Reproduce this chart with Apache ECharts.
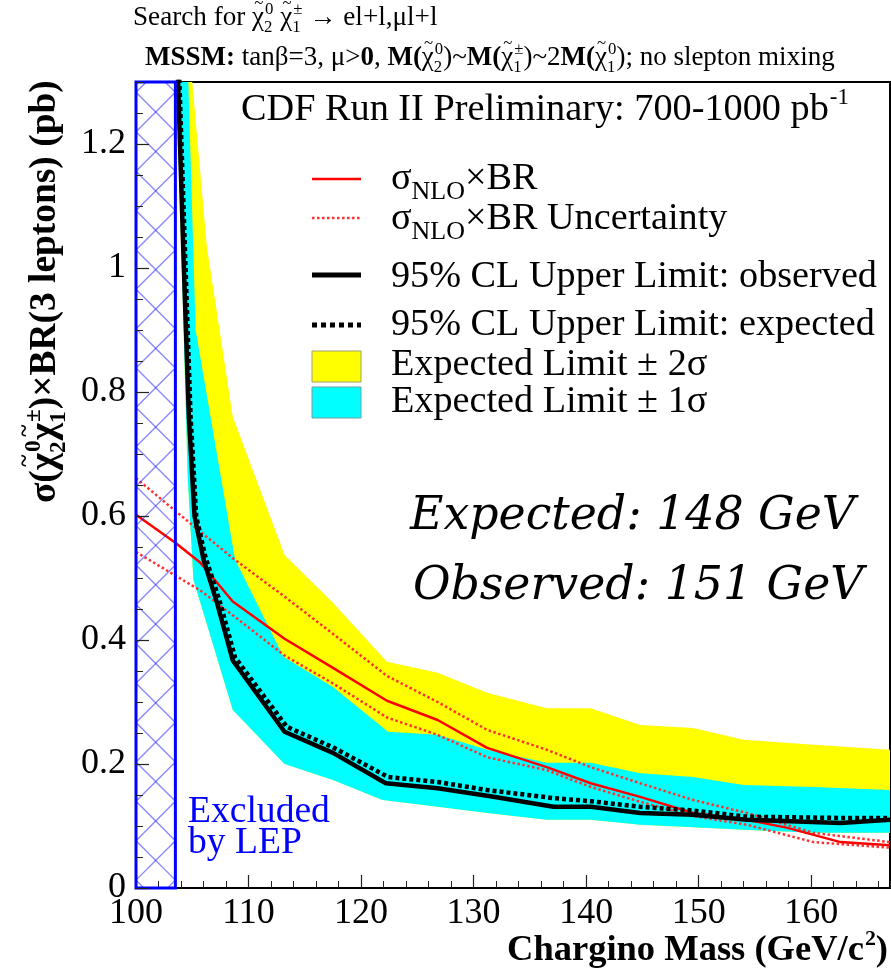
<!DOCTYPE html>
<html>
<head>
<meta charset="utf-8">
<script src="https://cdn.jsdelivr.net/npm/echarts@6/dist/echarts.min.js"></script>
<style>
  html, body { margin: 0; padding: 0; background: #fff; }
  #chart { width: 891px; height: 974px; }
</style>
</head>
<body>
<div id="chart"></div>
<script>
// ---- Chargino mass (GeV/c^2) and cross-section limits (pb) ----
const lepLimit = 103.5;          // region excluded by LEP: 100 .. lepLimit
const xRange = [100, 167];
const yRange = [0, 1.3];
const xTicks = 10, xMinor = 2;
const yTicks = 0.2, yMinor = 0.05;

// theory: sigma_NLO x BR and its uncertainty
const nloMass = [100, 103.5, 105.7, 108.6, 113.2, 117.5, 122.3, 126.8, 131.2, 136.5, 140.4, 144.8, 149.5, 154.3, 157.9, 162.6, 167];
const nloXsec = [0.602, 0.557, 0.525, 0.462, 0.402, 0.355, 0.302, 0.271, 0.226, 0.195, 0.169, 0.147, 0.121, 0.11, 0.097, 0.074, 0.069];
const nloErrMass = [100, 105.7, 108.6, 113.2, 117.5, 122.3, 126.8, 131.2, 136.5, 140.4, 144.8, 149.5, 154.3, 160.2, 167];
const nloUpper = [0.661, 0.575, 0.532, 0.47, 0.41, 0.342, 0.3, 0.255, 0.223, 0.195, 0.169, 0.142, 0.121, 0.089, 0.074];
const nloLower = [0.542, 0.48, 0.44, 0.375, 0.33, 0.275, 0.247, 0.211, 0.19, 0.163, 0.139, 0.116, 0.102, 0.074, 0.065];

// 95% CL upper limits
const obsMass = [103.5, 104.2, 104.7, 105.2, 106.0, 107.2, 108.6, 113.2, 117.5, 122.2, 126.8, 131.5, 137.1, 140.4, 144.8, 149.5, 154.3, 162.6, 167];
const obsLimit = [1.44, 1.03, 0.76, 0.60, 0.53, 0.46, 0.367, 0.252, 0.218, 0.169, 0.161, 0.148, 0.131, 0.131, 0.121, 0.118, 0.11, 0.105, 0.11];
const expMass = [103.6, 104.35, 104.85, 105.35, 106.15, 107.4, 108.8, 113.4, 117.5, 122.4, 126.8, 131.2, 137.1, 140.4, 144.8, 149.5, 154.3, 162.6, 167];
const expLimit = [1.44, 1.03, 0.76, 0.60, 0.535, 0.465, 0.372, 0.26, 0.227, 0.179, 0.171, 0.158, 0.145, 0.14, 0.131, 0.125, 0.115, 0.113, 0.113];

// expected-limit bands (the -2 sigma edge coincides with the -1 sigma edge)
const band2UpMass = [103.5, 105.0, 106.3, 108.6, 113.2, 117.5, 122.3, 126.8, 131.2, 136.5, 140.4, 144.8, 149.5, 154.0, 160.2, 167];
const band2Up = [2.2, 1.3, 1.034, 0.76, 0.537, 0.46, 0.365, 0.347, 0.315, 0.29, 0.29, 0.263, 0.258, 0.239, 0.231, 0.223];
const band1UpMass = [103.5, 104.65, 105.3, 108.8, 113.1, 117.5, 122.4, 126.8, 131.2, 136.5, 140.4, 144.8, 149.5, 154.0, 160.2, 167];
const band1Up = [1.75, 1.3, 0.9, 0.53, 0.373, 0.324, 0.252, 0.247, 0.223, 0.202, 0.202, 0.185, 0.179, 0.166, 0.163, 0.158];
const band1LowMass = [103.3, 104.6, 105.1, 108.6, 113.2, 117.5, 121.9, 126.8, 131.2, 136.5, 140.4, 144.8, 149.5, 154.0, 160.2, 167];
const band1Low = [1.5, 0.66, 0.497, 0.287, 0.2, 0.174, 0.142, 0.131, 0.121, 0.11, 0.11, 0.102, 0.098, 0.094, 0.089, 0.089];

const expectedMassLimit = 148;
const observedMassLimit = 151;

// ---- helpers ----
const zip = (xs, ys) => xs.map((x, i) => [x, ys[i]]);
const SERIF = '"Liberation Serif"';

const mctx = document.createElement('canvas').getContext('2d');
function fnt(r, size) {
  return (r.i ? 'italic ' : '') + (r.b ? 'bold ' : '') + size.toFixed(2) + 'px ' + (r.f || SERIF);
}
function measure(text, font) { mctx.font = font; return mctx.measureText(text).width; }

// lay out text runs (plain text, tilde accents, super/subscripts) along a baseline at y = 0
function buildRuns(runs, size, color, family) {
  let x = 0;
  const els = [];
  const put = (text, font, px, base, sz, align) => els.push({
    type: 'text', x: px, y: base - 0.34 * sz, silent: true,
    style: { text: text, font: font, fill: color, align: align || 'left', verticalAlign: 'middle' }
  });
  runs.forEach(r0 => {
    const r = Object.assign({ f: family }, r0);
    if (r.t !== undefined) {
      const f = fnt(r, size);
      const w = measure(r.t, f);
      put(r.t, f, x, 0, size);
      if (r.tilde) {
        const ts = size * 0.62;
        put('~', fnt(r, ts), x + w * 0.55, -size * 0.66, ts, 'center');
      }
      x += w;
    } else {
      const ss = size * (r.s || 0.62);
      const f = fnt(r, ss);
      let w = 0;
      if (r.sup !== undefined) { put(r.sup, f, x + 1, -size * 0.44, ss); w = Math.max(w, measure(r.sup, f) + 1); }
      if (r.sub !== undefined) { put(r.sub, f, x, size * 0.24, ss); w = Math.max(w, measure(r.sub, f)); }
      x += w;
    }
  });
  return { els: els, width: x, size: size };
}
function fitSize(runs, size, target, family) {
  return size * target / buildRuns(runs, size, '#000', family).width;
}
function mathText(runs, o) {
  const res = buildRuns(runs, o.size, o.color || '#000', o.family);
  let ox = 0;
  if (o.align === 'right') ox = -res.width;
  res.els.forEach(e => { e.x += ox; });
  return { type: 'group', x: o.x, y: o.y, rotation: o.rotation || 0, silent: true, children: res.els };
}

// polygon between an upper and a lower edge, in data coordinates
function bandSeries(name, upX, upY, loX, loY, color, z) {
  return {
    type: 'custom', name: name, coordinateSystem: 'cartesian2d', clip: true, z: z,
    data: [[xRange[0], yRange[0]]], encode: { x: 0, y: 1 }, silent: true,
    renderItem: (params, api) => {
      const pts = [];
      upX.forEach((m, i) => pts.push(api.coord([m, upY[i]])));
      for (let i = loX.length - 1; i >= 0; i--) pts.push(api.coord([loX[i], loY[i]]));
      return { type: 'polygon', shape: { points: pts }, style: { fill: color, stroke: null } };
    }
  };
}

// cross-hatched box for the LEP-excluded mass range
const lepSeries = {
  type: 'custom', name: 'Excluded by LEP', coordinateSystem: 'cartesian2d', z: 8, silent: true,
  data: [[xRange[0], yRange[0]]], encode: { x: 0, y: 1 },
  renderItem: (params, api) => {
    const tl = api.coord([xRange[0], yRange[1]]);
    const br = api.coord([lepLimit, yRange[0]]);
    const x0 = tl[0], y0 = tl[1], x1 = br[0], y1 = br[1], w = x1 - x0;
    const hatch = [];
    for (let yc = y1 - 0.7 * w + w; yc > y0 - w; yc -= w) {
      hatch.push({ type: 'line', shape: { x1: x0, y1: yc - w / 2, x2: x1, y2: yc + w / 2 },
        style: { stroke: 'rgba(40,40,255,0.55)', lineWidth: 1.4 } });
      hatch.push({ type: 'line', shape: { x1: x0, y1: yc + w / 2, x2: x1, y2: yc - w / 2 },
        style: { stroke: 'rgba(40,40,255,0.55)', lineWidth: 1.4 } });
    }
    return {
      type: 'group',
      children: [
        { type: 'group', children: hatch,
          clipPath: { type: 'rect', shape: { x: x0, y: y0, width: w, height: y1 - y0 } } },
        { type: 'rect', shape: { x: x0, y: y0, width: w, height: y1 - y0 },
          style: { fill: null, stroke: '#0000ff', lineWidth: 3 } }
      ]
    };
  }
};

// ---- text blocks ----
const chi = { t: 'χ', tilde: true };
const chiB = { t: 'χ', tilde: true, b: 1 };
const titleLine1 = [{ t: 'Search for ' }, chi, { sup: '0', sub: '2' }, { t: ' ' }, chi, { sup: '±', sub: '1' }, { t: ' → el+l,μl+l' }];
const titleLine2 = [{ t: 'MSSM:', b: 1 }, { t: ' tanβ=3, μ>' }, { t: '0', b: 1 }, { t: ', ' },
  { t: 'M(', b: 1 }, chi, { sup: '0', sub: '2' }, { t: ')~' },
  { t: 'M(', b: 1 }, chi, { sup: '±', sub: '1' }, { t: ')~2' },
  { t: 'M(', b: 1 }, chi, { sup: '0', sub: '1' }, { t: '); no slepton mixing' }];
const yTitle = [{ t: 'σ(', b: 1 }, chiB, { sup: '0', sub: '2', b: 1 }, chiB, { sup: '±', sub: '1', b: 1 }, { t: ')×BR(3 leptons) (pb)', b: 1 }];
const xTitle = [{ t: 'Chargino Mass (GeV/c', b: 1 }, { sup: '2', b: 1, s: 0.6 }, { t: ')', b: 1 }];
const runLabel = [{ t: 'CDF Run II Preliminary: 700-1000 pb' }, { sup: '-1', s: 0.6 }];

const legendRows = [
  { runs: [{ t: 'σ' }, { sub: 'NLO', s: 0.68 }, { t: '×BR' }], base: 192 },
  { runs: [{ t: 'σ' }, { sub: 'NLO', s: 0.68 }, { t: '×BR Uncertainty' }], base: 232 },
  { runs: [{ t: '95% CL Upper Limit: observed' }], base: 290 },
  { runs: [{ t: '95% CL Upper Limit: expected' }], base: 338 },
  { runs: [{ t: 'Expected Limit ± 2σ' }], base: 378 },
  { runs: [{ t: 'Expected Limit ± 1σ' }], base: 415 }
];
const legendSize = fitSize(legendRows[2].runs, 38, 486);

const expText = [{ t: 'Expected: ' + expectedMassLimit + ' GeV', i: 1 }];
const obsText = [{ t: 'Observed: ' + observedMassLimit + ' GeV', i: 1 }];
const annSize = fitSize(expText, 46, 445, '"DejaVu Serif"');
const lepSize = fitSize([{ t: 'Excluded' }], 37, 142);

const graphics = [
  mathText(titleLine1, { x: 133, y: 27, size: fitSize(titleLine1, 22, 305) }),
  mathText(titleLine2, { x: 145, y: 67, size: fitSize(titleLine2, 24, 690) }),
  mathText(runLabel, { x: 241, y: 123, size: fitSize(runLabel, 38, 608) }),
  mathText(yTitle, { x: 58, y: 503, size: fitSize(yTitle, 34, 423), rotation: Math.PI / 2 }),
  mathText(xTitle, { x: 888, y: 963, size: fitSize(xTitle, 35, 381), align: 'right' }),
  mathText(expText, { x: 410, y: 533, size: annSize, family: '"DejaVu Serif"' }),
  mathText(obsText, { x: 413, y: 603, size: annSize, family: '"DejaVu Serif"' }),
  mathText([{ t: 'Excluded' }], { x: 188, y: 825, size: lepSize, color: '#0000ff' }),
  mathText([{ t: 'by LEP' }], { x: 188, y: 856, size: lepSize, color: '#0000ff' }),
  // legend keys
  { type: 'line', silent: true, shape: { x1: 312, y1: 179, x2: 361, y2: 179 }, style: { stroke: '#ff0000', lineWidth: 2.5 } },
  { type: 'line', silent: true, shape: { x1: 312, y1: 218, x2: 361, y2: 218 }, style: { stroke: '#ff3030', lineWidth: 2.5, lineDash: [2.5, 2.5] } },
  { type: 'line', silent: true, shape: { x1: 312, y1: 275, x2: 361, y2: 275 }, style: { stroke: '#000', lineWidth: 5 } },
  { type: 'line', silent: true, shape: { x1: 312, y1: 325, x2: 361, y2: 325 }, style: { stroke: '#000', lineWidth: 5, lineDash: [5, 4] } },
  { type: 'rect', silent: true, shape: { x: 312, y: 351, width: 49, height: 31 }, style: { fill: '#ffff00', stroke: '#a0a070', lineWidth: 1 } },
  { type: 'rect', silent: true, shape: { x: 312, y: 387, width: 49, height: 31 }, style: { fill: '#00ffff', stroke: '#70a0a0', lineWidth: 1 } }
].concat(legendRows.map(r => mathText(r.runs, { x: 391, y: r.base, size: legendSize })));

const axisFont = { fontFamily: SERIF, fontSize: 36, color: '#000' };

const option = {
  animation: false,
  backgroundColor: '#ffffff',
  grid: { left: 136, right: 1, top: 82, bottom: 86, show: true, borderColor: '#000', borderWidth: 2, backgroundColor: 'transparent' },
  xAxis: [
    { type: 'value', min: xRange[0], max: xRange[1], interval: xTicks, position: 'bottom',
      axisLine: { show: true, onZero: false, lineStyle: { color: '#000', width: 2 } },
      axisTick: { show: true, inside: true, length: 13, lineStyle: { color: '#222', width: 1.2 } },
      axisLabel: Object.assign({ margin: 8, showMaxLabel: false }, axisFont),
      splitLine: { show: false } },
    { type: 'value', min: xRange[0], max: xRange[1], interval: xMinor, position: 'bottom',
      axisLine: { show: false, onZero: false },
      axisTick: { show: true, inside: true, length: 7, lineStyle: { color: '#222', width: 1 } },
      axisLabel: { show: false }, splitLine: { show: false } }
  ],
  yAxis: [
    { type: 'value', min: yRange[0], max: yRange[1], interval: yTicks, z: 20,
      axisLine: { show: false, onZero: false },
      axisTick: { show: true, inside: true, length: 13, lineStyle: { color: '#222', width: 1.2 } },
      axisLabel: Object.assign({ margin: 10, showMaxLabel: false }, axisFont),
      splitLine: { show: false } },
    { type: 'value', min: yRange[0], max: yRange[1], interval: yMinor, position: 'left', z: 20,
      axisLine: { show: false, onZero: false },
      axisTick: { show: true, inside: true, length: 7, lineStyle: { color: '#222', width: 1 } },
      axisLabel: { show: false }, splitLine: { show: false } }
  ],
  series: [
    bandSeries('Expected Limit ± 2σ', band2UpMass, band2Up, band1LowMass, band1Low, '#ffff00', 1),
    bandSeries('Expected Limit ± 1σ', band1UpMass, band1Up, band1LowMass, band1Low, '#00ffff', 2),
    { type: 'line', name: 'σNLO×BR Uncertainty (up)', data: zip(nloErrMass, nloUpper), showSymbol: false, z: 3, silent: true,
      lineStyle: { color: '#ff3030', width: 2.5, type: [2.5, 2.5] } },
    { type: 'line', name: 'σNLO×BR Uncertainty (down)', data: zip(nloErrMass, nloLower), showSymbol: false, z: 3, silent: true,
      lineStyle: { color: '#ff3030', width: 2.5, type: [2.5, 2.5] } },
    { type: 'line', name: 'σNLO×BR', data: zip(nloMass, nloXsec), showSymbol: false, z: 4, silent: true,
      lineStyle: { color: '#ff0000', width: 2.5 } },
    { type: 'line', name: '95% CL Upper Limit: observed', data: zip(obsMass, obsLimit), showSymbol: false, z: 5, silent: true,
      lineStyle: { color: '#000', width: 4.5 } },
    { type: 'line', name: '95% CL Upper Limit: expected', data: zip(expMass, expLimit), showSymbol: false, z: 6, silent: true,
      lineStyle: { color: '#000', width: 4.5, type: [4, 3] } },
    lepSeries
  ],
  graphic: graphics
};

const chart = echarts.init(document.getElementById('chart'), null, { renderer: 'canvas' });
chart.setOption(option);
</script>
</body>
</html>
